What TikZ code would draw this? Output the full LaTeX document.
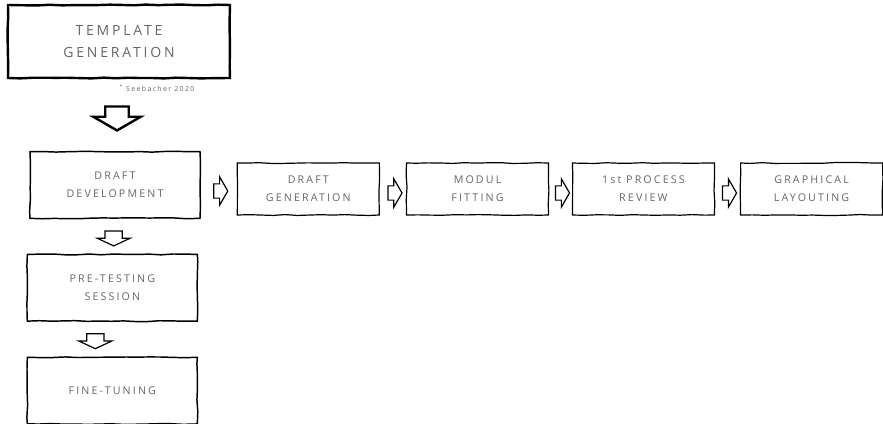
\documentclass[tikz,border=0pt]{standalone}
\usepackage{fontspec}
\setmainfont{Open Sans}
\newfontfamily\hand[LetterSpace=20]{Open Sans}
\usetikzlibrary{shapes,arrows,positioning,calc,decorations.pathmorphing}
\tikzset{
  sk/.style={decorate,decoration={random steps,segment length=9pt,amplitude=0.35pt}},
  b/.style={rectangle,draw,sk,line width=1.1pt,minimum width=127.5pt,minimum height=50pt,align=center,font=\hand\fontsize{8}{13.5}\selectfont,text=black!60},
  sb/.style={b,line width=0.9pt,minimum width=106.5pt,minimum height=39pt},
  tb/.style={b,line width=1.8pt,minimum width=166.5pt,minimum height=54.75pt,font=\hand\fontsize{10.5}{17}\selectfont},
  barr/.style={single arrow,draw,line width=0.9pt,inner xsep=0pt,fill=white},
  harr/.style={barr,minimum height=10.5pt,inner ysep=4.9pt,single arrow head extend=5.25pt,single arrow tip angle=120,yshift=-3pt},
  varr/.style={barr,rotate=-90,minimum height=11.25pt,inner ysep=6pt,single arrow head extend=6pt,single arrow tip angle=130},
  bvarr/.style={barr,rotate=-90,line width=1.8pt,minimum height=18pt,inner ysep=7.9pt,single arrow head extend=9pt,single arrow tip angle=120},
}
\begin{document}
\begin{tikzpicture}[x=0.75pt,y=-0.75pt]
  \useasboundingbox (0,0) rectangle (883,424);
  \node[tb] (tmpl) at (119,41.5) {TEMPLATE\\GENERATION};
  \node[font=\hand\fontsize{5.2}{6}\selectfont,text=black!60] (src) at (157,88) {\textsuperscript{*} Seebacher 2020};
  \node[b] (dev) at (115,185) {DRAFT\\DEVELOPMENT};
  \node[b,below=26pt of dev,xshift=-2pt] (pre) {PRE-TESTING\\SESSION};
  \node[b,below=26pt of pre] (fine) {FINE-TUNING};
  \node[sb,right=27pt of dev,yshift=-3pt] (gen) {DRAFT\\GENERATION};
  \node[sb,right=19.5pt of gen] (mod) {MODUL\\FITTING};
  \node[sb,right=17pt of mod] (rev) {1st PROCESS\\REVIEW};
  \node[sb,right=18.75pt of rev] (lay) {GRAPHICAL\\LAYOUTING};
  \node[bvarr] (a0) at ($(tmpl.south)!.5!(dev.north)$) {};
  \node[varr] (a1) at ($(dev.south)!.5!(pre.north)$) {};
  \node[varr] (a2) at ($(pre.south)!.5!(fine.north)+(-17,0)$) {};
  \node[harr] (a3) at ($(dev.east)!.5!(gen.west)$) {};
  \node[harr] (a4) at ($(gen.east)!.5!(mod.west)$) {};
  \node[harr] (a5) at ($(mod.east)!.5!(rev.west)$) {};
  \node[harr] (a6) at ($(rev.east)!.5!(lay.west)$) {};
\end{tikzpicture}
\end{document}
